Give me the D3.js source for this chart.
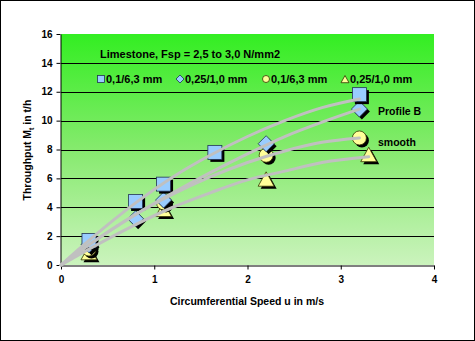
<!DOCTYPE html>
<html><head><meta charset="utf-8">
<script src="https://cdn.jsdelivr.net/npm/d3@7"></script>
<style>
html,body{margin:0;padding:0;background:#fff;}
svg{display:block;font-family:"Liberation Sans",Arial,sans-serif;}
</style></head>
<body>
<svg id="c" width="475" height="341"></svg>
<script>
// ---- data ----
const xTicks = [0, 1, 2, 3, 4];
const yTicks = [0, 2, 4, 6, 8, 10, 12, 14, 16];
const seriesNames = ["0,1/6,3 mm", "0,25/1,0 mm", "0,1/6,3 mm", "0,25/1,0 mm"];
const squareX = [0.3, 0.8, 1.1, 1.65, 3.2];
const squareY = [1.7, 4.4, 5.6, 7.8, 11.8];
const diamondX = [0.3, 0.8, 1.1, 2.2, 3.2];
const diamondY = [1.4, 3.2, 4.5, 8.4, 10.8];
const circleX = [0.3, 1.1, 2.2, 3.2];
const circleY = [1.1, 4.3, 7.6, 8.8];
const triangleX = [0.3, 1.1, 2.2, 3.3];
const triangleY = [0.8, 3.8, 5.9, 7.6];
// trend curves
const trendX = [0, 0.3, 0.8, 1.2, 1.6, 2.0, 2.4, 2.8, 3.2];
const trendSquare = [0, 1.7, 4.3, 6.1, 7.6, 8.9, 10.0, 10.9, 11.5];
const trendDiamond = [0, 1.4, 3.5, 5.0, 6.4, 7.7, 8.9, 9.9, 10.8];
const trendCircle = [0, 1.4, 3.5, 4.9, 6.1, 7.1, 7.9, 8.5, 8.8];
const trendTriX = [0, 0.3, 0.8, 1.2, 1.6, 2.0, 2.4, 2.8, 3.3];
const trendTriangle = [0, 1.1, 2.8, 4.0, 5.0, 5.9, 6.5, 7.1, 7.5];
const title = "Limestone, Fsp = 2,5 to 3,0 N/mm2";
const xLabel = "Circumferential Speed u in m/s";

// ---- layout ----
const svg = d3.select("#c");
const L = 61, R = 434, T = 34, B = 265;
const x = d3.scaleLinear().domain([0, 4]).range([L, R]);
const y = d3.scaleLinear().domain([0, 16]).range([B, T]);

svg.append("rect").attr("x", 0.5).attr("y", 0.5).attr("width", 474).attr("height", 340)
  .attr("fill", "#fff").attr("stroke", "#000").attr("stroke-width", 1);

const defs = svg.append("defs");
const g = defs.append("linearGradient").attr("id", "bg").attr("x1", 0).attr("y1", 0).attr("x2", 0).attr("y2", 1);
g.append("stop").attr("offset", "0%").attr("stop-color", "#33ee22");
g.append("stop").attr("offset", "50%").attr("stop-color", "#86ea6e");
g.append("stop").attr("offset", "100%").attr("stop-color", "#cbf3bd");

svg.append("rect").attr("x", L).attr("y", T).attr("width", R - L).attr("height", B - T).attr("fill", "url(#bg)");

// gridlines
svg.append("g").selectAll("line").data(yTicks.filter(d => d > 0 && d < 16)).join("line")
  .attr("x1", L).attr("x2", R).attr("y1", d => Math.round(y(d)) + 0.5).attr("y2", d => Math.round(y(d)) + 0.5)
  .attr("stroke", "#000").attr("stroke-width", 1);

// axes
const xa = svg.append("g").attr("transform", `translate(0,${B + 0.5})`)
  .call(d3.axisBottom(x).tickValues(xTicks).tickFormat(d3.format("d")).tickSize(4).tickSizeOuter(0));
const ya = svg.append("g").attr("transform", `translate(${L - 0.5},0)`)
  .call(d3.axisLeft(y).tickValues(yTicks).tickFormat(d3.format("d")).tickSize(4).tickSizeOuter(0));
[xa, ya].forEach(a => {
  a.select(".domain").attr("stroke", "#000");
  a.selectAll("line").attr("stroke", "#000");
  a.selectAll("text").attr("font-family", "Liberation Sans, Arial, sans-serif")
    .attr("font-size", 10).attr("font-weight", "bold").attr("fill", "#000");
});
xa.selectAll("text").attr("dy", "1.05em");
ya.selectAll("text").attr("dx", "-1");

// markers
function drawSquare(gr, cx, cy, s, fill, shadow) {
  if (shadow) gr.append("rect").attr("x", cx - s / 2 + 2.5).attr("y", cy - s / 2 + 2.5).attr("width", s).attr("height", s).attr("fill", "#000");
  gr.append("rect").attr("x", cx - s / 2).attr("y", cy - s / 2).attr("width", s).attr("height", s)
    .attr("fill", fill).attr("stroke", "#223355").attr("stroke-width", 0.8);
}
function diamondPath(cx, cy, s) {
  return `M${cx},${cy - s}L${cx + s},${cy}L${cx},${cy + s}L${cx - s},${cy}Z`;
}
function drawDiamond(gr, cx, cy, s, fill, shadow) {
  if (shadow) gr.append("path").attr("d", diamondPath(cx + 2.5, cy + 2.5, s)).attr("fill", "#000");
  gr.append("path").attr("d", diamondPath(cx, cy, s)).attr("fill", fill).attr("stroke", "#223355").attr("stroke-width", 0.8);
}
function drawCircle(gr, cx, cy, r, fill, shadow) {
  if (shadow) gr.append("circle").attr("cx", cx + 2.5).attr("cy", cy + 2.5).attr("r", r).attr("fill", "#000");
  gr.append("circle").attr("cx", cx).attr("cy", cy).attr("r", r).attr("fill", fill).attr("stroke", "#333300").attr("stroke-width", 0.8);
}
function triPath(cx, cy, s) {
  return `M${cx},${cy - s}L${cx + s},${cy + s * 0.8}L${cx - s},${cy + s * 0.8}Z`;
}
function drawTriangle(gr, cx, cy, s, fill, shadow) {
  if (shadow) gr.append("path").attr("d", triPath(cx + 2.5, cy + 2.5, s)).attr("fill", "#000");
  gr.append("path").attr("d", triPath(cx, cy, s)).attr("fill", fill).attr("stroke", "#333300").attr("stroke-width", 0.8);
}
const blue = "#99ccff", yellow = "#ffff99";
const mk = svg.append("g");
triangleX.forEach((v, i) => drawTriangle(mk, x(v), y(triangleY[i]), 8, yellow, true));
circleX.forEach((v, i) => drawCircle(mk, x(v), y(circleY[i]), 7, yellow, true));
diamondX.forEach((v, i) => drawDiamond(mk, x(v), y(diamondY[i]), 8, blue, true));
squareX.forEach((v, i) => drawSquare(mk, x(v), y(squareY[i]), 14, blue, true));

// trend lines
const line = d3.line().x(d => x(d[0])).y(d => y(d[1])).curve(d3.curveMonotoneX);
const trends = [
  trendX.map((v, i) => [v, trendSquare[i]]),
  trendX.map((v, i) => [v, trendDiamond[i]]),
  trendX.map((v, i) => [v, trendCircle[i]]),
  trendTriX.map((v, i) => [v, trendTriangle[i]])
];
svg.append("g").selectAll("path").data(trends).join("path")
  .attr("d", line).attr("fill", "none").attr("stroke", "#c0c0c0").attr("stroke-width", 3).attr("stroke-linecap", "round");

// title & legend
svg.append("text").attr("x", 100).attr("y", 58).attr("font-size", 11).attr("font-weight", "bold").text(title);
const legX = [101, 180, 266, 345];
const lg = svg.append("g");
drawSquare(lg, legX[0], 79, 7, blue, false);
drawDiamond(lg, legX[1], 79, 4, blue, false);
drawCircle(lg, legX[2], 79, 3.5, yellow, false);
drawTriangle(lg, legX[3], 79.5, 4, yellow, false);
lg.selectAll("text.l").data(seriesNames).join("text").attr("class", "l")
  .attr("x", (d, i) => legX[i] + 5).attr("y", 83).attr("font-size", 11).attr("font-weight", "bold").text(d => d);

// annotations
svg.append("text").attr("x", 378).attr("y", 115).attr("font-size", 10.5).attr("font-weight", "bold").text("Profile B");
svg.append("text").attr("x", 378).attr("y", 146).attr("font-size", 10.5).attr("font-weight", "bold").text("smooth");

// axis titles
svg.append("text").attr("x", 247).attr("y", 305).attr("text-anchor", "middle").attr("font-size", 10.5).attr("font-weight", "bold").text(xLabel);
const yt = svg.append("text").attr("transform", "translate(31,150) rotate(-90)").attr("text-anchor", "middle")
  .attr("font-size", 10.5).attr("font-weight", "bold");
yt.append("tspan").text("Throughput M");
yt.append("tspan").attr("font-size", 7).attr("dy", 3).text("t");
yt.append("tspan").attr("dy", -3).text(" in t/h");
</script>
</body></html>
